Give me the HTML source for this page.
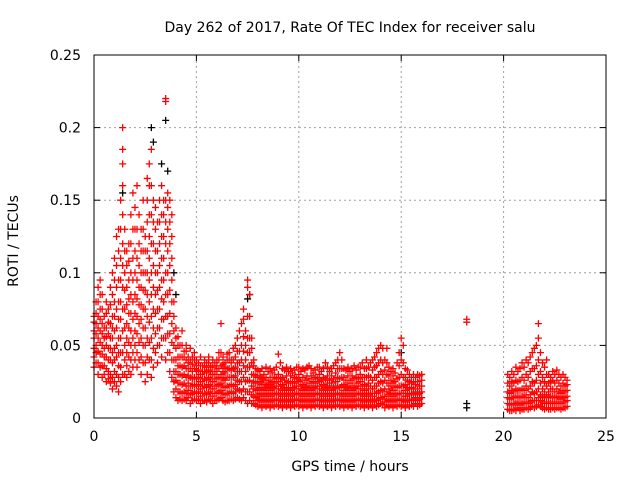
<!DOCTYPE html>
<html><head><meta charset="utf-8"><style>
body{margin:0;background:#fff;}
svg text{font-family:"DejaVu Sans","Liberation Sans",sans-serif;font-size:14px;fill:#000;}
</style></head><body>
<svg id="chart" width="640" height="480" viewBox="0 0 640 480" xmlns="http://www.w3.org/2000/svg">
<rect width="640" height="480" fill="#fff"/>
<g id="grid"></g>
<g id="ticks"></g>
<g id="black-pts"></g>
<g id="red-pts"></g>
<rect x="94" y="55" width="512" height="363" fill="none" stroke="#000" stroke-width="1"/>
<text x="350" y="32" text-anchor="middle">Day 262 of 2017, Rate Of TEC Index for receiver salu</text>
<text x="350" y="471" text-anchor="middle">GPS time / hours</text>
<text x="18" y="241" text-anchor="middle" transform="rotate(-90 18 241)">ROTI / TECUs</text>
</svg>
<script>
const xTicks=[0,5,10,15,20,25];
const yTicks=[0,0.05,0.1,0.15,0.2,0.25];
const yTickLabels=["0","0.05","0.1","0.15","0.2","0.25"];
// red series: [hour, values in milli-TECU/min...]
const redRows=[
[0.0,35,42,48,55,60,66,70],[0.1,38,45,50,58,65,72,80],[0.2,30,38,46,55,62,70,80,90],[0.3,35,44,52,60,68,75,85,95],[0.4,28,36,44,50,58,65,75,85],
[0.5,30,36,42,48,55,62,70],[0.6,25,34,42,50,56,62,72,80],[0.7,27,32,40,48,58,66,75],[0.8,24,30,40,48,55,65,78,90],[0.9,20,28,38,45,55,62,70,85,100],
[1.0,25,32,40,48,60,70,80,95,110],[1.1,22,30,42,50,62,75,90,105,125],[1.2,18,28,36,45,55,68,80,95,115,130],[1.3,25,35,45,55,68,80,95,110,130,150],[1.4,30,45,60,75,90,105,120,140,160,175,185,200],
[1.5,30,40,50,62,75,88,100,115,130],[1.6,28,36,45,55,65,78,90,105,115],[1.7,32,42,52,62,72,82,95,108,120],[1.8,30,40,50,60,72,85,100,120,140],[1.9,35,45,55,68,80,95,110,130,155],
[2.0,40,50,60,72,85,100,115,130,145],[2.1,35,45,58,70,82,95,110,130,160],[2.2,40,52,65,78,90,105,120,140],[2.3,30,42,55,68,78,90,100,115,130],[2.4,38,50,62,75,88,100,115,130,150],
[2.5,25,38,50,62,75,88,100,115,125],[2.6,30,42,55,70,85,100,115,135,150,165],[2.7,40,52,66,80,95,110,125,140,160,175],[2.8,28,40,55,70,85,100,120,140,160,185],[2.9,35,48,62,75,90,105,120,135,150],
[3.0,45,58,72,85,100,115,130,145],[3.1,38,50,62,75,88,100,115,135],[3.2,50,62,75,90,105,120,135,150],[3.3,42,55,68,82,95,110,125,140,160],[3.4,55,68,80,95,110,125,140,150],
[3.5,40,55,70,85,100,120,135,150,220,218],[3.6,45,58,70,85,100,115,130,145,155],[3.7,32,45,58,72,88,105,120,135,150],[3.8,28,40,52,65,80,95,110,125,140],[3.9,18,25,32,40,50,60,70,80],
[4.0,14,20,26,32,40,48,55,62],[4.1,12,18,24,30,36,42,50,56],[4.2,13,18,24,30,36,42,50],[4.3,12,17,23,29,35,42,50,60],[4.4,13,18,24,30,36,42,46],
[4.5,12,17,22,28,34,40,46,50],[4.6,14,19,24,29,34,38,42],[4.7,10,16,22,28,34,40,48],[4.8,12,17,22,27,32,37,42],[4.9,13,18,23,28,34,40,45],
[5.0,12,17,22,27,32,36,40],[5.1,13,18,23,28,33,38],[5.2,10,15,20,25,30,36,42],[5.3,12,17,22,27,32,36],[5.4,12,17,22,27,32,36,40],
[5.5,11,16,21,26,31,35,38],[5.6,13,18,23,28,33,38,42],[5.7,12,17,22,27,32,36],[5.8,10,15,20,25,30,35,40],[5.9,12,17,22,27,32,38],
[6.0,12,17,22,27,32,36,40],[6.1,13,18,23,28,34,40,45],[6.2,14,19,24,30,36,45,65],[6.3,12,17,22,27,32,37,42],[6.4,11,16,21,26,31,35,38],
[6.5,12,17,22,28,34,40,44],[6.6,12,17,22,28,34,40,45],[6.7,13,18,23,28,33,38,40],[6.8,12,17,22,28,34,40,48],[6.9,13,18,23,29,35,42,50],
[7.0,14,20,26,32,38,46,55],[7.1,13,19,25,32,38,46,60],[7.2,12,18,25,32,40,50,65],[7.3,14,20,28,36,46,56,68,75],[7.4,12,18,25,32,40,50,60],
[7.5,10,18,26,35,45,55,70,90,95],[7.6,12,18,26,35,45,55,70,85],[7.7,10,16,22,30,38,48,55],[7.8,10,15,20,25,30,36,40],[7.9,9,14,19,24,29,34],
[8.0,8,12,16,20,24,28,33],[8.1,9,13,17,21,25,29,32],[8.2,7,11,15,19,23,27,34],[8.3,9,13,17,21,26,30],[8.4,8,12,16,20,24,28,35],
[8.5,9,13,17,22,26,32],[8.6,7,11,15,19,23,28,34],[8.7,9,13,17,21,25,31],[8.8,8,12,16,20,24,28,33],[8.9,9,13,17,22,27,35],
[9.0,8,12,16,20,25,30,44],[9.1,9,13,17,22,27,38],[9.2,7,11,15,19,23,28,34],[9.3,9,13,17,21,26,33],[9.4,8,12,16,20,24,29,35],
[9.5,9,13,17,21,25,32],[9.6,7,11,15,19,24,29,34],[9.7,9,13,17,21,25,31],[9.8,8,12,16,20,24,28,33],[9.9,9,13,17,22,27,35],
[10.0,8,12,16,20,25,30,35],[10.1,9,13,17,22,26,32],[10.2,7,11,15,19,23,28,34],[10.3,9,13,17,21,26,33],[10.4,8,12,16,20,24,29,35],
[10.5,9,13,17,22,27,36],[10.6,7,11,15,19,24,29,34],[10.7,9,13,17,21,25,31],[10.8,8,12,16,20,24,28,33],[10.9,9,13,17,22,27,35],
[11.0,8,12,16,20,25,30,35],[11.1,9,13,17,22,26,32],[11.2,7,11,15,19,23,28,34],[11.3,9,13,17,21,27,38],[11.4,8,12,16,20,24,29,35],
[11.5,9,13,17,22,26,32],[11.6,7,11,15,19,24,29,34],[11.7,9,13,17,21,27,36],[11.8,8,12,16,20,25,31,38],[11.9,9,13,17,22,28,34,40],
[12.0,8,12,16,21,27,34,45],[12.1,9,13,17,22,28,34,40],[12.2,7,11,15,19,23,28,34],[12.3,9,13,17,21,26,33],[12.4,8,12,16,20,24,29,35],
[12.5,9,13,17,22,26,32],[12.6,7,11,15,19,24,29,34],[12.7,9,13,17,21,27,36],[12.8,8,12,16,20,24,28,33],[12.9,9,13,17,22,27,35],
[13.0,8,12,16,20,25,30,35],[13.1,9,13,17,22,28,38],[13.2,7,11,15,19,23,28,34],[13.3,9,13,17,22,28,34,40],[13.4,8,12,16,20,24,29,35],
[13.5,9,13,17,22,28,38],[13.6,7,11,15,20,26,33,40],[13.7,9,13,17,22,28,35,42],[13.8,8,12,17,22,28,36,45],[13.9,9,13,18,24,30,38,48],
[14.0,10,14,19,25,32,40,50],[14.1,9,13,18,24,30,38,48],[14.2,7,11,15,20,26,33,40],[14.3,9,13,18,24,30,38,48],[14.4,8,12,16,20,24,29,35],
[14.5,9,13,17,22,26,32],[14.6,7,11,15,19,24,29,34],[14.7,9,13,17,21,25,31],[14.8,8,12,16,21,27,38],[14.9,9,13,17,22,28,36,45],
[15.0,8,12,17,22,30,40,55],[15.1,9,13,17,22,28,38,50],[15.2,7,11,15,19,23,28,34],[15.3,9,13,17,21,26,33],[15.4,8,12,16,20,25,30],
[15.5,9,13,17,21,24,28],[15.6,8,12,16,20,25,30],[15.7,10,14,18,23,28],[15.8,8,12,16,20,25,30],[15.9,9,13,17,22,29],
[16.0,10,14,18,22,26,30],
[18.2,68,66],
[20.2,6,10,14,18,24,30],[20.3,5,9,13,17,22,28],[20.4,5,9,14,19,25,32],[20.5,6,10,14,18,24,30],[20.6,5,10,15,20,26,35],
[20.7,7,11,15,19,25,32],[20.8,5,9,14,19,26,34],[20.9,6,10,15,20,28,38],[21.0,6,10,14,19,26,35],[21.1,7,11,16,22,30,40],
[21.2,6,10,14,20,28,38],[21.3,7,11,16,22,32,42],[21.4,8,12,18,25,34,45],[21.5,7,12,17,24,34,48],[21.6,8,12,18,26,36,50],
[21.7,9,14,20,30,40,55,65],[21.8,8,12,16,24,32,45],[21.9,7,11,15,20,28,38],[22.0,6,10,14,18,25,35],[22.1,7,11,16,22,30,40],
[22.2,6,10,14,18,24,30],[22.3,6,10,15,20,25,28],[22.4,7,11,15,20,26,32],[22.5,6,10,14,18,24,30],[22.6,7,11,15,20,26,33],
[22.7,7,11,14,18,24,30],[22.8,6,10,13,17,22,28],[22.9,7,11,15,19,24,30],[23.0,7,11,14,18,22,28],[23.1,8,12,15,19,23,26]
];
const blackRows=[[1.4,155],[2.8,200],[2.9,190],[3.5,205],[3.6,170],[3.3,175],[7.6,85],[7.5,82],[18.2,10,7],[15.0,45],[3.9,100],[4.0,85]];
const X0=94,X1=606,Y0=418,Y1=55;
const xs=v=>X0+(v-0)/(25-0)*(X1-X0);
const ys=v=>Y0-(v-0)/(0.25-0)*(Y0-Y1);
const NS="http://www.w3.org/2000/svg";
const grid=document.getElementById('grid'),ticks=document.getElementById('ticks');
function mk(tag,at,parent){const e=document.createElementNS(NS,tag);for(const k in at)e.setAttribute(k,at[k]);parent.appendChild(e);return e;}
xTicks.forEach((t,i)=>{const x=xs(t);
 if(i>0&&i<xTicks.length-1){const g=mk('line',{x1:x,x2:x,y1:Y0,y2:Y1,stroke:'#a0a0a0','stroke-dasharray':'2,3'},grid);
 
 }
 mk('line',{x1:x,x2:x,y1:Y0,y2:Y0-6,stroke:'#000'},ticks);mk('line',{x1:x,x2:x,y1:Y1,y2:Y1+6,stroke:'#000'},ticks);
 const tx=mk('text',{x:x,y:Y0+23,'text-anchor':'middle'},ticks);tx.textContent=String(t);
 
 
});
yTicks.forEach((t,i)=>{const y=ys(t);
 if(i>0&&i<yTicks.length-1){const g=mk('line',{x1:X0,x2:X1,y1:y,y2:y,stroke:'#a0a0a0','stroke-dasharray':'2,3'},grid);
 
 }
 mk('line',{x1:X0,x2:X0+6,y1:y,y2:y,stroke:'#000'},ticks);mk('line',{x1:X1,x2:X1-6,y1:y,y2:y,stroke:'#000'},ticks);
 const tx=mk('text',{x:X0-13,y:y+5,'text-anchor':'end'},ticks);tx.textContent=yTickLabels[i];
 
 
});
function draw(rows,color,gid){let d='';rows.forEach(r=>{const x=xs(r[0]);for(let j=1;j<r.length;j++){const y=ys(r[j]/1000);d+=`M${x-3.5},${y}h7M${x},${y-3.5}v7`;}});
 const p=mk('path',{d:d,stroke:color,'stroke-width':1.3,fill:'none'},document.getElementById(gid));
 
 }
draw(blackRows,'#000','black-pts');
draw(redRows,'#ff0000','red-pts');
</script>
</body></html>
